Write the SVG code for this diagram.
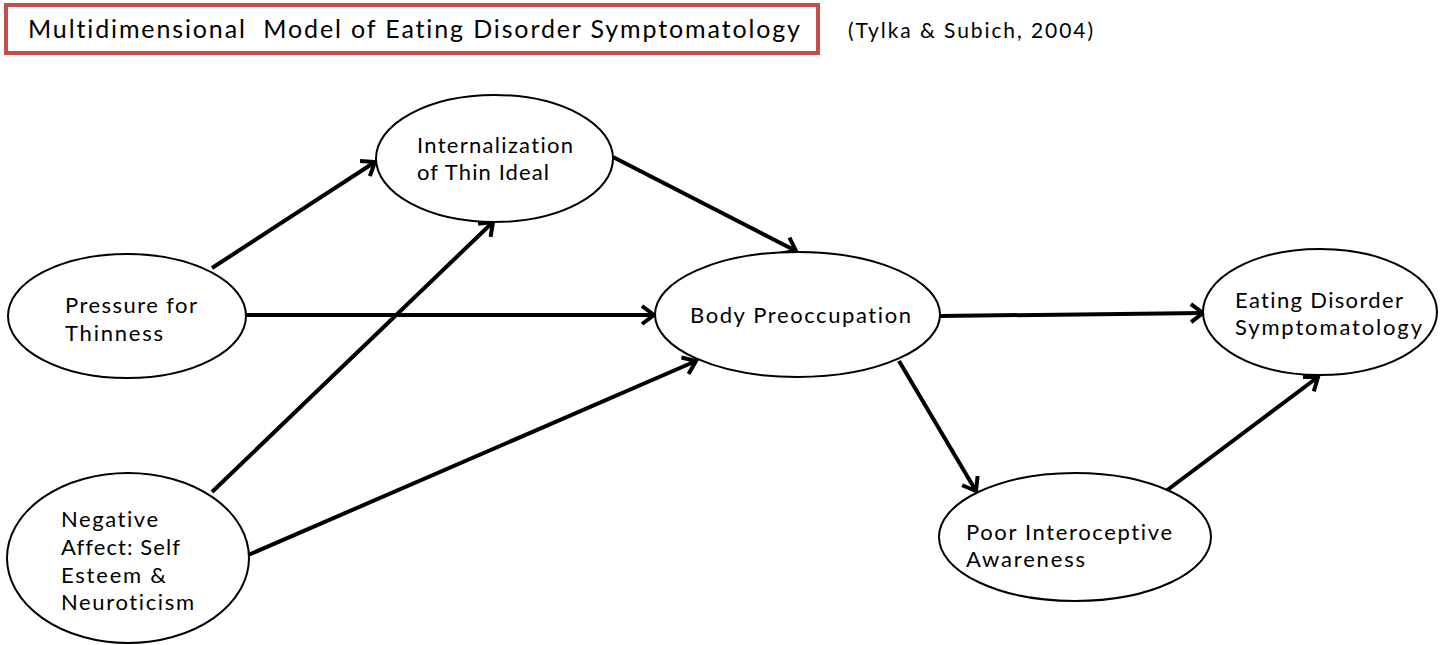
<svg xmlns="http://www.w3.org/2000/svg" width="1442" height="645" viewBox="0 0 1442 645">
  <style>
    text { font-variant-ligatures: none; }
    .node ellipse { fill: #ffffff; stroke: #000000; stroke-width: 2; }
    .label { font-family: Lato, "Open Sans", sans-serif; font-size: 22px; fill: #000000; }
    .edge { stroke: #000000; stroke-width: 4; fill: none; marker-end: url(#head); }
    .title-box { fill: #ffffff; stroke: #c0504d; stroke-width: 4; }
    .title { font-family: Lato, "Open Sans", sans-serif; font-size: 25px; fill: #000000; }
    .cite { font-family: Lato, "Open Sans", sans-serif; font-size: 21px; fill: #000000; }
  </style>
  <defs>
    <marker id="head" markerUnits="userSpaceOnUse" markerWidth="24" markerHeight="24" refX="14" refY="10" orient="auto" overflow="visible">
      <path d="M2,1 L14,10 L2,19" fill="none" stroke="#000000" stroke-width="4" stroke-linejoin="miter"/>
    </marker>
  </defs>

  <rect width="1442" height="645" fill="#ffffff"/>

  <!-- heading -->
  <g id="title">
    <rect class="title-box" x="6" y="5" width="812" height="48"/>
    <text class="title" x="28" y="38" xml:space="preserve" textLength="772" lengthAdjust="spacing">Multidimensional  Model of Eating Disorder Symptomatology</text>
  </g>
  <g id="citation">
    <text class="cite" x="848" y="38" textLength="245" lengthAdjust="spacing">(Tylka &amp; Subich, 2004)</text>
  </g>

  <!-- paths between constructs -->
  <g id="connectors">
    <line class="edge" x1="212" y1="268" x2="375" y2="162"/>
    <line class="edge" x1="212" y1="492" x2="493" y2="222"/>
    <line class="edge" x1="246" y1="315" x2="654" y2="315"/>
    <line class="edge" x1="246" y1="556" x2="696" y2="361"/>
    <line class="edge" x1="613" y1="157" x2="796" y2="251"/>
    <line class="edge" x1="940" y1="316" x2="1203" y2="313"/>
    <line class="edge" x1="899" y1="361" x2="976" y2="491"/>
    <line class="edge" x1="1166" y1="491" x2="1318" y2="377"/>
  </g>

  <g id="internalization" class="node">
    <ellipse cx="494.5" cy="158.5" rx="118.5" ry="63.5"/>
    <text class="label" x="417" y="153" textLength="156" lengthAdjust="spacing">Internalization</text>
    <text class="label" x="417" y="180" textLength="132" lengthAdjust="spacing">of Thin Ideal</text>
  </g>

  <g id="pressure" class="node">
    <ellipse cx="127" cy="316" rx="119" ry="62"/>
    <text class="label" x="65" y="313" textLength="132" lengthAdjust="spacing">Pressure for</text>
    <text class="label" x="65" y="341" textLength="98" lengthAdjust="spacing">Thinness</text>
  </g>

  <g id="negative-affect" class="node">
    <ellipse cx="128" cy="558" rx="121" ry="85"/>
    <text class="label" x="61" y="527" textLength="97" lengthAdjust="spacing">Negative</text>
    <text class="label" x="61" y="555" textLength="119" lengthAdjust="spacing">Affect: Self</text>
    <text class="label" x="61" y="583" textLength="105" lengthAdjust="spacing">Esteem &amp;</text>
    <text class="label" x="61" y="610" textLength="133" lengthAdjust="spacing">Neuroticism</text>
  </g>

  <g id="body-preoccupation" class="node">
    <ellipse cx="797.5" cy="314.5" rx="142.5" ry="62.5"/>
    <text class="label" x="690" y="323" textLength="221" lengthAdjust="spacing">Body Preoccupation</text>
  </g>

  <g id="eating-disorder" class="node">
    <ellipse cx="1320" cy="312" rx="117" ry="63"/>
    <text class="label" x="1235" y="308" textLength="168" lengthAdjust="spacing">Eating Disorder</text>
    <text class="label" x="1235" y="335" textLength="187" lengthAdjust="spacing">Symptomatology</text>
  </g>

  <g id="interoceptive" class="node">
    <ellipse cx="1075" cy="537" rx="136" ry="64"/>
    <text class="label" x="966" y="540" textLength="206" lengthAdjust="spacing">Poor Interoceptive</text>
    <text class="label" x="966" y="567" textLength="119" lengthAdjust="spacing">Awareness</text>
  </g>
</svg>
